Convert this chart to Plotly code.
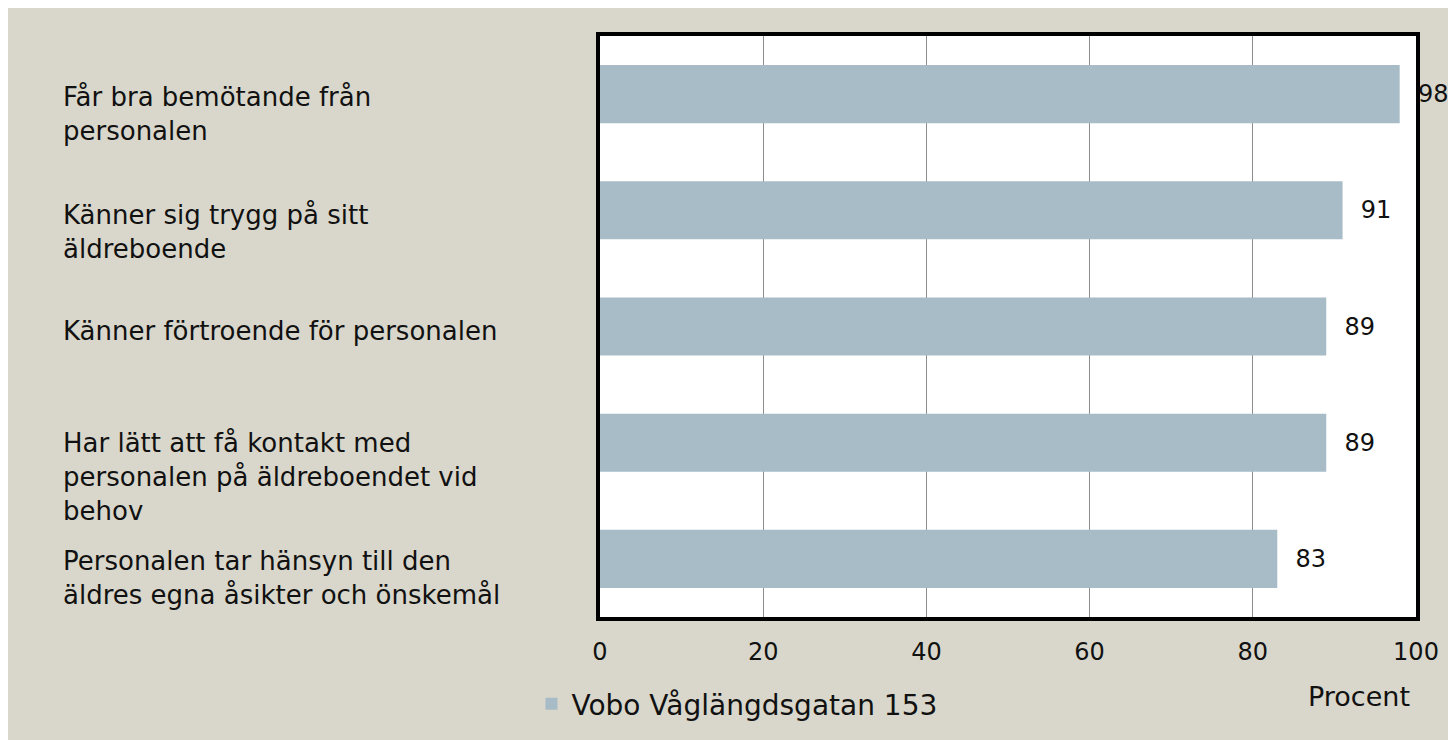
import plotly.graph_objects as go

categories = [
    "Får bra bemötande från<br>personalen",
    "Känner sig trygg på sitt<br>äldreboende",
    "Känner förtroende för personalen",
    "Har lätt att få kontakt med<br>personalen på äldreboendet vid<br>behov",
    "Personalen tar hänsyn till den<br>äldres egna åsikter och önskemål",
]
values = [98, 91, 89, 89, 83]
series_name = "Vobo Våglängdsgatan 153"
x_ticks = [0, 20, 40, 60, 80, 100]
x_title = "Procent"
label_shifts = [-20, -22, -4, -34, -19]

BG = "#D9D7CB"
BAR = "#A7BCC7"
FONT = "DejaVu Sans"
FS = 26
NUM = 24
TXT = "#111111"

fig = go.Figure()
fig.add_trace(go.Bar(
    y=list(range(len(categories))),
    x=values,
    orientation="h",
    name=series_name,
    marker=dict(color=BAR, line=dict(width=0)),
    width=0.5,
    text=[str(v) for v in values],
    texttemplate="  %{text}",
    textposition="outside",
    textfont=dict(family=FONT, size=NUM, color=TXT),
    cliponaxis=False,
    showlegend=True,
))

for i, cat in enumerate(categories):
    fig.add_annotation(
        xref="paper", yref="y", x=-0.661, y=i, text=cat,
        xanchor="left", yanchor="middle", align="left", showarrow=False,
        yshift=label_shifts[i],
        font=dict(family=FONT, size=FS, color=TXT),
    )

fig.add_annotation(
    xref="paper", yref="paper", x=0.93, y=-0.136, text=x_title,
    xanchor="center", yanchor="middle", showarrow=False,
    font=dict(family=FONT, size=27, color=TXT),
)

fig.update_layout(
    width=1456, height=740,
    paper_bgcolor=BG, plot_bgcolor="white",
    margin=dict(l=592, r=48, t=28, b=131),
    font=dict(family=FONT, size=FS, color=TXT),
    legend=dict(orientation="h", x=-0.084, y=-0.15, xanchor="left", yanchor="middle",
                font=dict(family=FONT, size=28, color=TXT), bgcolor="rgba(0,0,0,0)"),
    xaxis=dict(range=[0, 100], tickvals=x_ticks, showgrid=True, gridcolor="#8C8C8C", gridwidth=1,
               showline=True, linecolor="black", linewidth=4, mirror=True,
               zeroline=False, ticks="", ticklabelstandoff=10,
               tickfont=dict(family=FONT, size=NUM, color=TXT)),
    yaxis=dict(range=[4.5, -0.5], showticklabels=False, showgrid=False, zeroline=False,
               showline=True, linecolor="black", linewidth=4, mirror=True, ticks=""),
)

fig.write_html("out.html")
